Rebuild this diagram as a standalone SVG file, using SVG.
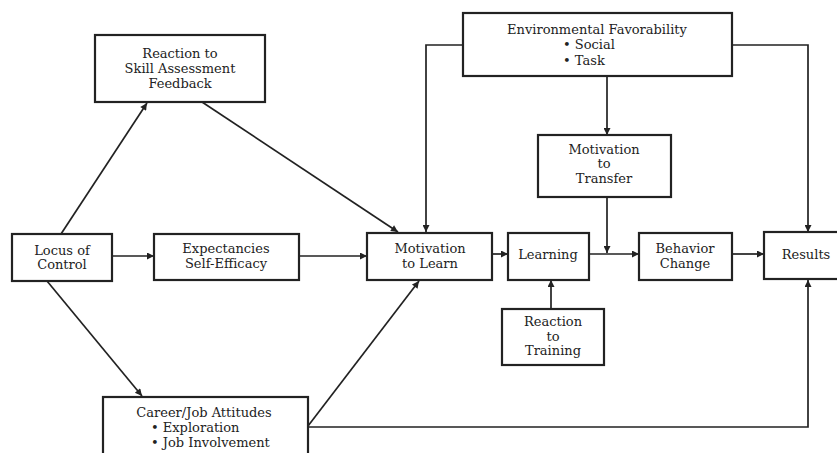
<svg xmlns="http://www.w3.org/2000/svg" width="837" height="453" viewBox="0 0 837 453">
  <style>
    .box { fill: #fff; stroke: #222; stroke-width: 2.2; }
    .lbl { font-family: "DejaVu Serif", "Liberation Serif", serif; font-size: 13px; fill: #222; text-anchor: middle; }
    .item { text-anchor: start; }
    .edge { fill: none; stroke: #222; stroke-width: 1.7; }
  </style>
  <defs>
    <marker id="arrow" viewBox="0 0 10 10" refX="10" refY="5" markerWidth="11" markerHeight="7" markerUnits="userSpaceOnUse" orient="auto">
      <path d="M0,0 L10,5 L0,10 z" fill="#222"/>
    </marker>
  </defs>
  <rect width="837" height="453" fill="#fff"/>

  <g id="connectors">
    <!-- Locus of Control to Reaction to Skill Assessment Feedback -->
    <line class="edge" x1="61" y1="234" x2="147" y2="103" marker-end="url(#arrow)"/>
    <!-- Reaction to Skill Assessment Feedback to Motivation to Learn -->
    <line class="edge" x1="202" y1="102" x2="398" y2="232" marker-end="url(#arrow)"/>
    <!-- Locus of Control to Career/Job Attitudes -->
    <line class="edge" x1="47" y1="281" x2="142" y2="396" marker-end="url(#arrow)"/>
    <!-- Locus of Control to Expectancies -->
    <line class="edge" x1="112" y1="256" x2="154" y2="256" marker-end="url(#arrow)"/>
    <!-- Expectancies to Motivation to Learn -->
    <line class="edge" x1="299" y1="256" x2="367" y2="256" marker-end="url(#arrow)"/>
    <!-- Career/Job Attitudes to Motivation to Learn -->
    <line class="edge" x1="308" y1="426" x2="419" y2="281" marker-end="url(#arrow)"/>
    <!-- Career/Job Attitudes to Results -->
    <polyline class="edge" points="308,427 808,427 808,280" marker-end="url(#arrow)"/>
    <!-- Motivation to Learn to Learning -->
    <line class="edge" x1="492" y1="254" x2="508" y2="254" marker-end="url(#arrow)"/>
    <!-- Learning to Behavior Change -->
    <line class="edge" x1="589" y1="254" x2="639" y2="254" marker-end="url(#arrow)"/>
    <!-- Behavior Change to Results -->
    <line class="edge" x1="732" y1="254" x2="764" y2="254" marker-end="url(#arrow)"/>
    <!-- Reaction to Training to Learning -->
    <line class="edge" x1="551" y1="309" x2="551" y2="280" marker-end="url(#arrow)"/>
    <!-- Environmental Favorability to Motivation to Transfer -->
    <line class="edge" x1="607" y1="76" x2="607" y2="135" marker-end="url(#arrow)"/>
    <!-- Motivation to Transfer into the Learning/Behavior link -->
    <line class="edge" x1="607" y1="197" x2="607" y2="253" marker-end="url(#arrow)"/>
    <!-- Environmental Favorability to Motivation to Learn -->
    <polyline class="edge" points="463,45 426,45 426,232" marker-end="url(#arrow)"/>
    <!-- Environmental Favorability to Results -->
    <polyline class="edge" points="732,45 808,45 808,232" marker-end="url(#arrow)"/>
  </g>

  <g id="skill-feedback">
    <rect class="box" x="95" y="35" width="170" height="67"/>
    <text class="lbl" x="180" y="58">Reaction to</text>
    <text class="lbl" x="180" y="73">Skill Assessment</text>
    <text class="lbl" x="180" y="88">Feedback</text>
  </g>

  <g id="env-favorability">
    <rect class="box" x="463" y="13" width="269" height="63"/>
    <text class="lbl" x="597" y="34">Environmental Favorability</text>
    <text class="lbl item" x="563" y="49">• Social</text>
    <text class="lbl item" x="563" y="65">• Task</text>
  </g>

  <g id="motivation-transfer">
    <rect class="box" x="538" y="135" width="133" height="62"/>
    <text class="lbl" x="604" y="154">Motivation</text>
    <text class="lbl" x="604" y="168">to</text>
    <text class="lbl" x="604" y="183">Transfer</text>
  </g>

  <g id="locus-control">
    <rect class="box" x="12" y="234" width="100" height="47"/>
    <text class="lbl" x="62" y="255">Locus of</text>
    <text class="lbl" x="62" y="269">Control</text>
  </g>

  <g id="expectancies">
    <rect class="box" x="154" y="234" width="145" height="46"/>
    <text class="lbl" x="226" y="253">Expectancies</text>
    <text class="lbl" x="226" y="268">Self-Efficacy</text>
  </g>

  <g id="motivation-learn">
    <rect class="box" x="367" y="233" width="125" height="47"/>
    <text class="lbl" x="430" y="253">Motivation</text>
    <text class="lbl" x="430" y="268">to Learn</text>
  </g>

  <g id="learning">
    <rect class="box" x="508" y="233" width="81" height="47"/>
    <text class="lbl" x="548" y="259">Learning</text>
  </g>

  <g id="behavior-change">
    <rect class="box" x="639" y="233" width="93" height="47"/>
    <text class="lbl" x="685" y="253">Behavior</text>
    <text class="lbl" x="685" y="268">Change</text>
  </g>

  <g id="results">
    <rect class="box" x="764" y="232" width="80" height="47"/>
    <text class="lbl" x="806" y="259">Results</text>
  </g>

  <g id="reaction-training">
    <rect class="box" x="502" y="309" width="102" height="56"/>
    <text class="lbl" x="553" y="326">Reaction</text>
    <text class="lbl" x="553" y="341">to</text>
    <text class="lbl" x="553" y="355">Training</text>
  </g>

  <g id="career-attitudes">
    <rect class="box" x="103" y="397" width="205" height="70"/>
    <text class="lbl" x="204" y="417">Career/Job Attitudes</text>
    <text class="lbl item" x="151" y="432">• Exploration</text>
    <text class="lbl item" x="151" y="447">• Job Involvement</text>
  </g>
</svg>
